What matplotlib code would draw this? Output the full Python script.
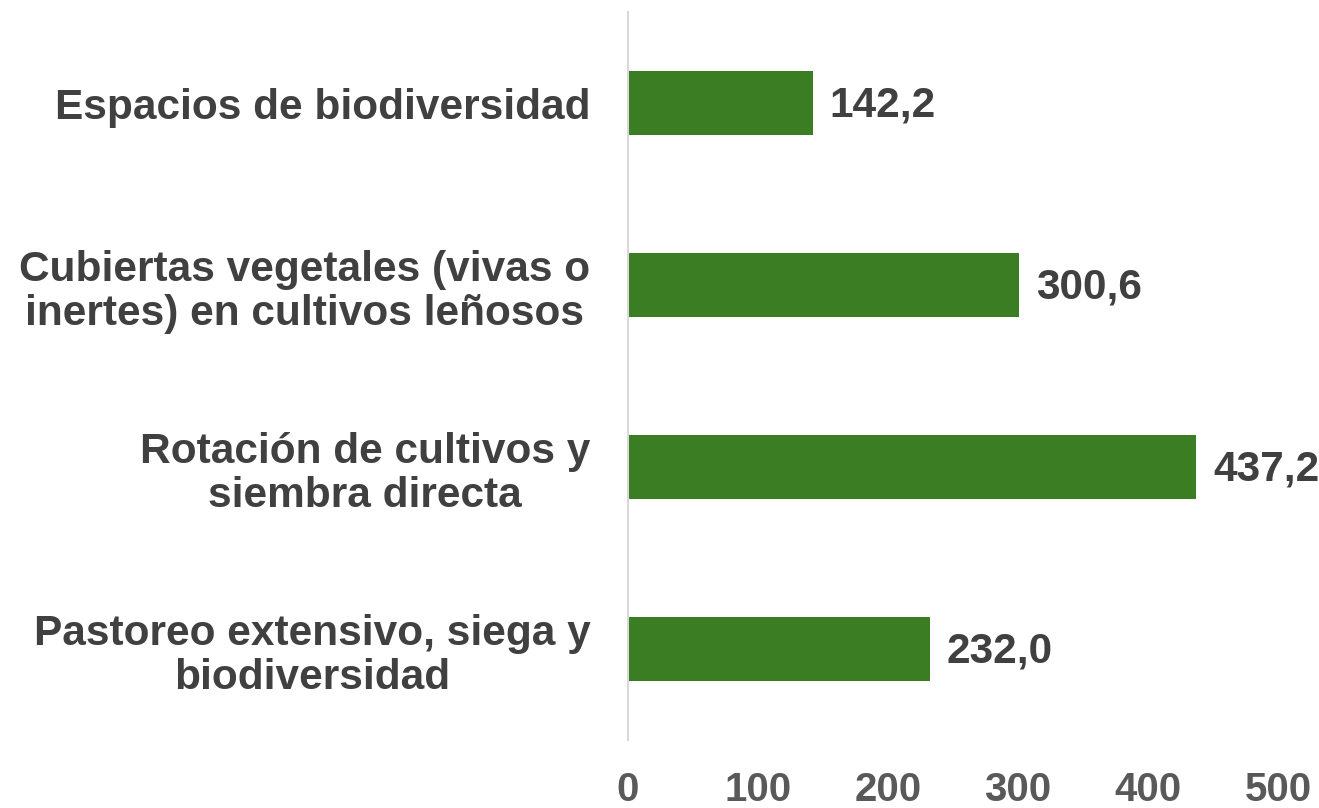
import matplotlib
matplotlib.use('Agg')
import matplotlib.pyplot as plt

categories = ['Pastoreo extensivo, siega y\nbiodiversidad',
              'Rotación de cultivos y\nsiembra directa',
              'Cubiertas vegetales (vivas o\ninertes) en cultivos leñosos',
              'Espacios de biodiversidad']
values = [232.0, 437.2, 300.6, 142.2]
xticks = [0, 100, 200, 300, 400, 500]

plt.rcParams['font.family'] = ['Liberation Sans', 'DejaVu Sans']

fig = plt.figure(figsize=(13.19, 8.08), dpi=100)
ax = fig.add_axes([628/1319, 68/808, 650/1319, 728/808])

pos = range(len(categories))
ax.barh(pos, values, height=0.35, color='#3A7D23')
for p, v in zip(pos, values):
    ax.text(v + 13, p - 0.015, f'{v:.1f}'.replace('.', ','), va='center', ha='left',
            fontsize=30.5, fontweight='bold', color='#404040')

ax.set_xlim(0, 500)
ax.set_ylim(-0.5, len(categories) - 0.5)
ax.set_xticks(xticks)
ax.set_xticklabels([str(t) for t in xticks], fontsize=29, fontweight='bold', color='#595959')
ax.set_yticks(list(pos))
ax.set_yticklabels(categories, fontsize=30.5, fontweight='bold', color='#404040',
                   ha='right', multialignment='center', linespacing=1.15)
ax.tick_params(axis='both', length=0)
ax.tick_params(axis='x', pad=22)
ax.tick_params(axis='y', pad=27)
for s in ['top', 'right', 'bottom']:
    ax.spines[s].set_visible(False)
ax.spines['left'].set_color('#D9D9D9')
ax.spines['left'].set_linewidth(1.5)

fig.savefig('out.png', dpi=100)
